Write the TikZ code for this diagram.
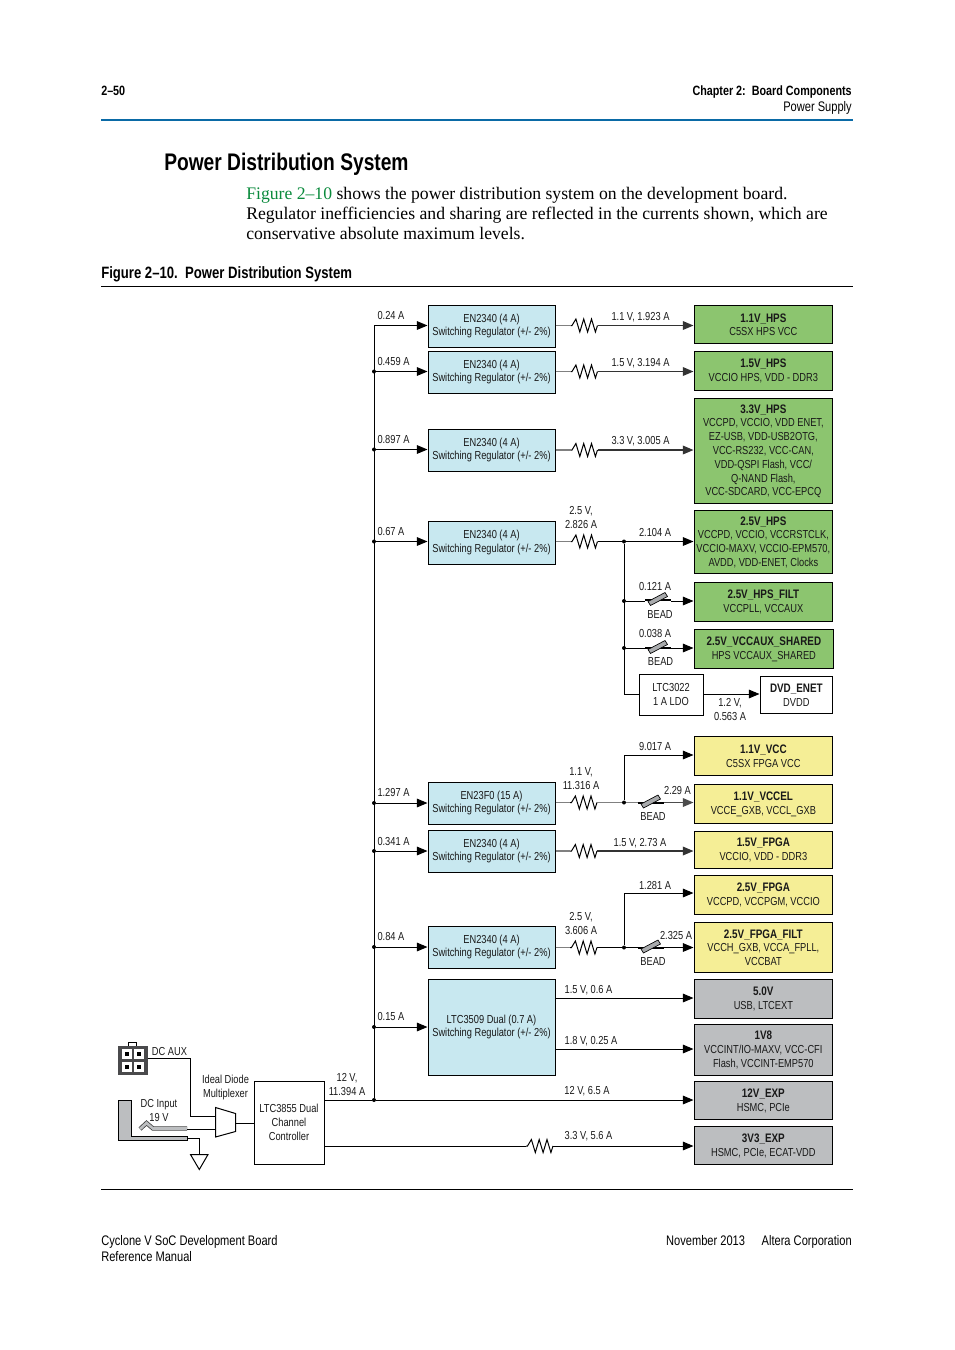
\documentclass[tikz,border=0pt]{standalone}
\usepackage{fontspec}
\usetikzlibrary{arrows.meta}
\setmainfont{Liberation Serif}
\newfontfamily\dg[FakeStretch=0.80]{Liberation Sans}
\newfontfamily\hd[FakeStretch=0.80]{Liberation Sans}
\definecolor{regblue}{HTML}{C8E8F0}
\definecolor{hpsgreen}{HTML}{8CC56F}
\definecolor{fpgayel}{HTML}{F5EE96}
\definecolor{auxgray}{HTML}{BCBEC0}
\definecolor{rulblue}{HTML}{0A6AA6}
\definecolor{lnkgreen}{HTML}{0A8A3C}
\definecolor{darkbody}{HTML}{4A4A4C}
\tikzset{
 px/.style={x=0.75pt,y=-0.75pt},
 wire/.style={line width=0.75pt,black},
 gwire/.style={line width=1pt,black!50},
 arr/.style={-{Triangle[length=8pt,width=6.5pt]}},
 dotn/.style={circle,fill=black,inner sep=0pt,minimum size=3pt},
 boxn/.style={draw=black,line width=0.75pt,align=center,inner sep=0pt,text=black!90,font=\dg\fontsize{8.7pt}{10.35pt}\selectfont},
 lab/.style={inner sep=0pt,align=center,yshift=-0.4pt,text=black!90,font=\dg\fontsize{8.7pt}{10.6pt}\selectfont},
 pageleft/.style={inner sep=0pt,anchor=base west},
 pageright/.style={inner sep=0pt,anchor=base east},
}
% name, x0, y0, x1, y1, fill, text
\newcommand\bx[7]{\node[boxn,fill=#6,minimum width={(#4-#2)*0.75pt},minimum height={(#5-#3)*0.75pt}] (#1) at ({(#2+#4)/2},{(#3+#5)/2}) {#7};}
\newcommand\lb[4]{\node[lab] (#1) at (#2,#3) {#4};}
\newcommand\hh[1]{\rule{0pt}{7.5pt}{\hd\bfseries\fontsize{9.25pt}{10.35pt}\selectfont #1}\\}
\newcommand\dt[3]{\node[dotn] (#1) at (#2,#3) {};}
% resistor: name, x, y
\newcommand\res[3]{\coordinate (#1L) at (#2,#3); \coordinate (#1R) at (#2+27,#3);
 \draw[line width=0.75pt,line join=miter] (#1L) -- ++(1.5,0) -- ++(3.9,-6.5) -- ++(3.9,13) -- ++(3.9,-13) -- ++(3.9,13) -- ++(3.9,-13) -- ++(3.9,13) -- (#1R);}
% bead: name, cx, y
\newcommand\bd[3]{\coordinate (#1L) at (#2-13,#3); \coordinate (#1R) at (#2+13,#3);
 \draw[line width=1.5pt] (#1L) -- (#1R);
 \draw[line width=0.5pt,fill=auxgray!90!black] (#2-10,#3+1.5) -- (#2+7,#3-7.5) -- (#2+9.5,#3-3.5) -- (#2-7.5,#3+5.5) -- cycle;}
\begin{document}
\begin{tikzpicture}[px]
\useasboundingbox (0,0) rectangle (954,1350);
% page furniture
\node[pageleft,font=\hd\bfseries\fontsize{10.1pt}{11pt}\selectfont] (pg) at (101,95) {2–50};
\node[pageright,font=\hd\bfseries\fontsize{10.1pt}{11pt}\selectfont] (ch) at (852,95) {Chapter 2:\ \ Board Components};
\node[pageright,font=\dg\fontsize{10.4pt}{11pt}\selectfont] (sec) at (852,111.5) {Power Supply};
\coordinate (ra) at (101,120); \coordinate (rb) at (853,120);
\draw[rulblue,line width=1.1pt] (ra) -- (rb);
\node[pageleft,font=\hd\bfseries\fontsize{18pt}{20pt}\selectfont] (title) at (164,170) {Power Distribution System};
\node[pageleft,font=\fontsize{13.25pt}{15pt}\selectfont] (p1) at (246,199) {\textcolor{lnkgreen}{Figure 2–10} shows the power distribution system on the development board.};
\node[pageleft,font=\fontsize{13.25pt}{15pt}\selectfont] (p2) at (246,219) {Regulator inefficiencies and sharing are reflected in the currents shown, which are};
\node[pageleft,font=\fontsize{13.25pt}{15pt}\selectfont] (p3) at (246,239) {conservative absolute maximum levels.};
\node[pageleft,font=\hd\bfseries\fontsize{12.3pt}{13pt}\selectfont] (cap) at (101,278) {Figure 2–10.\ \ Power Distribution System};
\coordinate (rc) at (101,286.5); \coordinate (rd) at (853,286.5);
\draw[line width=0.5pt] (rc) -- (rd);
\coordinate (re) at (101,1189); \coordinate (rf) at (853,1189);
\draw[line width=0.5pt] (re) -- (rf);
\node[pageleft,font=\dg\fontsize{10.4pt}{11pt}\selectfont] (f1) at (101,1245) {Cyclone V SoC Development Board};
\node[pageleft,font=\dg\fontsize{10.4pt}{11pt}\selectfont] (f2) at (101,1261) {Reference Manual};
\node[pageright,font=\dg\fontsize{10.4pt}{11pt}\selectfont] (f3) at (852,1245) {November 2013\hspace{1.2em}Altera Corporation};
% regulators
\bx{r1}{428}{305}{555}{347}{regblue}{EN2340 (4 A)\\Switching Regulator (+/- 2\%)}
\bx{r2}{428}{351}{555}{393}{regblue}{EN2340 (4 A)\\Switching Regulator (+/- 2\%)}
\bx{r3}{428}{429}{555}{471}{regblue}{EN2340 (4 A)\\Switching Regulator (+/- 2\%)}
\bx{r4}{428}{521}{555}{564}{regblue}{EN2340 (4 A)\\Switching Regulator (+/- 2\%)}
\bx{r5}{428}{782}{555}{824}{regblue}{EN23F0 (15 A)\\Switching Regulator (+/- 2\%)}
\bx{r6}{428}{830}{555}{872}{regblue}{EN2340 (4 A)\\Switching Regulator (+/- 2\%)}
\bx{r7}{428}{926}{555}{968}{regblue}{EN2340 (4 A)\\Switching Regulator (+/- 2\%)}
\bx{r8}{428}{979}{555}{1075}{regblue}{LTC3509 Dual (0.7 A)\\Switching Regulator (+/- 2\%)}
% loads
\bx{o1}{694}{305}{832.7}{343}{hpsgreen}{\hh{1.1V\_HPS}C5SX HPS VCC}
\bx{o2}{694}{351}{832.7}{390}{hpsgreen}{\hh{1.5V\_HPS}VCCIO HPS, VDD - DDR3}
\bx{o3}{694}{398}{832.7}{503}{hpsgreen}{\hh{3.3V\_HPS}VCCPD, VCCIO, VDD ENET,\\EZ-USB, VDD-USB2OTG,\\VCC-RS232, VCC-CAN,\\VDD-QSPI Flash, VCC/\\Q-NAND Flash,\\VCC-SDCARD, VCC-EPCQ}
\bx{o4}{694}{510}{832.7}{573}{hpsgreen}{\hh{2.5V\_HPS}VCCPD, VCCIO, VCCRSTCLK,\\VCCIO-MAXV, VCCIO-EPM570,\\AVDD, VDD-ENET, Clocks}
\bx{o5}{694}{582}{832.7}{621}{hpsgreen}{\hh{2.5V\_HPS\_FILT}VCCPLL, VCCAUX}
\bx{o6}{694}{629}{833.7}{668}{hpsgreen}{\hh{2.5V\_VCCAUX\_SHARED}HPS VCCAUX\_SHARED}
\bx{o7}{760}{676}{832.7}{713}{white}{\hh{DVD\_ENET}DVDD}
\bx{ldo}{639}{674}{703}{715}{white}{LTC3022\\1 A LDO}
\bx{o8}{694}{736}{832.7}{775}{fpgayel}{\hh{1.1V\_VCC}C5SX FPGA VCC}
\bx{o9}{694}{784}{832.7}{823}{fpgayel}{\hh{1.1V\_VCCEL}VCCE\_GXB, VCCL\_GXB}
\bx{o10}{694}{831}{832.7}{868}{fpgayel}{\hh{1.5V\_FPGA}VCCIO, VDD - DDR3}
\bx{o11}{694}{875}{832.7}{914}{fpgayel}{\hh{2.5V\_FPGA}VCCPD, VCCPGM, VCCIO}
\bx{o12}{694}{922}{832.7}{972}{fpgayel}{\hh{2.5V\_FPGA\_FILT}VCCH\_GXB, VCCA\_FPLL,\\VCCBAT}
\bx{o13}{694}{979}{832.7}{1018}{auxgray}{\hh{5.0V}USB, LTCEXT}
\bx{o14}{694}{1024}{832.7}{1075}{auxgray}{\hh{1V8}VCCINT/IO-MAXV, VCC-CFI\\Flash, VCCINT-EMP570}
\bx{o15}{694}{1081}{832.7}{1119}{auxgray}{\hh{12V\_EXP}HSMC, PCIe}
\bx{o16}{694}{1126}{832.7}{1164}{auxgray}{\hh{3V3\_EXP}HSMC, PCIe, ECAT-VDD}
\bx{ctl}{254}{1081}{324}{1164}{white}{LTC3855 Dual\\Channel\\Controller}
% bus
\coordinate (bustop) at (374,325.5);
\dt{b2}{374}{371.5}\dt{b3}{374}{449.5}\dt{b4}{374}{541.5}\dt{b5}{374}{803}\dt{b6}{374}{851}\dt{b7}{374}{947}\dt{b8}{374}{1027}\dt{b9}{374}{1100}
\draw[wire] (bustop) -- (b9);
\draw[wire,arr] (bustop) -- (r1.west |- bustop);
\foreach \n/\m in {b2/r2,b3/r3,b4/r4,b5/r5,b6/r6,b7/r7,b8/r8}{\draw[wire,arr] (\n) -- (\m.west |- \n);}
\draw[wire] (ctl.east |- b9) -- (b9);
\draw[wire,arr] (b9) -- (o15.west |- b9);
% resistors on the regulator outputs
\res{z1}{570.5}{325.5}\res{z2}{570.5}{371.5}\res{z3}{570.5}{450}\res{z4}{570.5}{541.5}
\res{z5}{570}{802.5}\res{z6}{570}{851}\res{z7}{570}{947.5}\res{z8}{526}{1146}
\foreach \n/\m in {1/1,2/2,3/3,6/10}{\draw[gwire] (r\n.east |- z\n L) -- (z\n L); \draw[gwire,arr,black!80] (z\n R) -- (o\m.west |- z\n R);}
\draw[gwire] (r4.east |- z4L) -- (z4L);
\draw[gwire] (r5.east |- z5L) -- (z5L);
\draw[gwire] (r7.east |- z7L) -- (z7L);
\draw[wire] (ctl.east |- z8L) -- (z8L);
\draw[wire,arr] (z8R) -- (o16.west |- z8R);
% 2.5 V HPS branch
\dt{j1}{624}{541.5}\dt{j2}{624}{601}\dt{j3}{624}{648}
\coordinate (j4) at (624,694);
\draw[wire] (z4R) -- (j1);
\draw[wire,arr] (j1) -- (o4.west |- j1);
\draw[wire] (j1) -- (j4) -- (ldo.west |- j4);
\bd{k1}{658}{600}\bd{k2}{658}{648}
\draw[wire] (j2) -- (k1L |- j2);
\draw[wire,arr] (k1R |- j2) -- (o5.west |- j2);
\draw[wire] (j3) -- (k2L);
\draw[wire,arr] (k2R) -- (o6.west |- k2R);
\draw[wire,arr] (ldo.east |- j4) -- (o7.west |- j4);
% 1.1 V FPGA branch
\dt{j5}{624}{802.5}
\coordinate (j6) at (624,755);
\draw[gwire] (z5R) -- (j5);
\draw[wire,arr] (j5) -- (j6) -- (o8.west |- j6);
\bd{k3}{651}{802.5}
\draw[gwire] (j5) -- (k3L);
\draw[gwire,arr,black!70] (k3R) -- (o9.west |- k3R);
% 2.5 V FPGA branch
\dt{j7}{624}{947.5}
\coordinate (j8) at (624,893);
\draw[wire] (z7R) -- (j7);
\draw[wire,arr] (j7) -- (j8) -- (o11.west |- j8);
\bd{k4}{651}{947.5}
\draw[wire] (j7) -- (k4L);
\draw[wire,arr] (k4R) -- (o12.west |- k4R);
% LTC3509 outputs
\coordinate (q1) at (555,998); \coordinate (q2) at (555,1049);
\draw[wire,arr] (r8.east |- q1) -- (o13.west |- q1);
\draw[wire,arr] (r8.east |- q2) -- (o14.west |- q2);
% wire labels
\lb{a1}{391}{315}{0.24 A}\lb{a2}{393.5}{361}{0.459 A}\lb{a3}{393.5}{439}{0.897 A}\lb{a4}{391}{531}{0.67 A}
\lb{a5}{393.5}{792}{1.297 A}\lb{a6}{393.5}{841}{0.341 A}\lb{a7}{391}{936}{0.84 A}\lb{a8}{391}{1016}{0.15 A}
\lb{a9}{347}{1084}{12 V,\\11.394 A}
\lb{c1}{640.5}{317}{1.1 V, 1.923 A}\lb{c2}{640.5}{363}{1.5 V, 3.194 A}\lb{c3}{640.5}{441}{3.3 V, 3.005 A}
\lb{c4}{581}{517}{2.5 V,\\2.826 A}\lb{c5}{655}{532}{2.104 A}\lb{c6}{655}{586}{0.121 A}\lb{c7}{660}{614}{BEAD}
\lb{c8}{655}{633}{0.038 A}\lb{c9}{660.5}{661}{BEAD}\lb{c10}{730}{709}{1.2 V,\\0.563 A}
\lb{c11}{655}{746}{9.017 A}\lb{c12}{581}{778}{1.1 V,\\11.316 A}\lb{c13}{677.5}{790}{2.29 A}\lb{c14}{653}{816}{BEAD}
\lb{c15}{640}{843}{1.5 V, 2.73 A}\lb{c16}{655}{885}{1.281 A}\lb{c17}{581}{923}{2.5 V,\\3.606 A}
\lb{c18}{676}{935}{2.325 A}\lb{c19}{653}{961}{BEAD}
\lb{c20}{588.5}{990}{1.5 V, 0.6 A}\lb{c21}{591}{1041}{1.8 V, 0.25 A}\lb{c22}{587}{1091}{12 V, 6.5 A}\lb{c23}{588.5}{1136}{3.3 V, 5.6 A}
\lb{d1}{169.5}{1051}{DC AUX}\lb{d2}{225.5}{1087}{Ideal Diode\\Multiplexer}\lb{d3}{159}{1110}{DC Input\\19 V}
% DC AUX connector
\coordinate (tabA) at (128,1042); \coordinate (tabB) at (136,1046);
\draw[line width=0.5pt,fill=white] (tabA) rectangle (tabB);
\coordinate (conA) at (118,1046); \coordinate (conB) at (147.5,1074.5);
\fill[darkbody] (conA) rectangle (conB);
\foreach \cx/\cy in {126.5/1053.5,138.5/1053.5,126.5/1067,138.5/1067}{
 \fill[white] (\cx-5,\cy-5) rectangle (\cx+5,\cy+5);
 \fill[black] (\cx-2,\cy-2) rectangle (\cx+2,\cy+2);}
% mux
\coordinate (muxa) at (215.5,1116.5); \coordinate (muxb) at (215.5,1129);
\draw[line width=0.75pt,fill=white] (215.5,1107.5) -- (235.5,1113.5) -- (235.5,1131.5) -- (215.5,1137) -- cycle;
\coordinate (auxout) at (147.5,1058);
\draw[wire] (auxout) -- (190,1058) -- (190,1116.5) -- (muxa);
\coordinate (muxout) at (235.5,1123);
\draw[wire] (muxout) -- (ctl.west |- muxout);
% DC jack
\draw[line width=0.75pt,fill=auxgray] (118,1100) -- (131,1100) -- (131,1136.5) -- (187,1136.5) -- (187,1140.5) -- (118,1140.5) -- cycle;
\draw[line width=3.2pt,black!75,line join=miter] (140,1129) -- (146.5,1123) -- (153,1128.5) -- (187,1128.5);
\draw[line width=2pt,auxgray,line join=miter] (140,1129) -- (146.5,1123) -- (153,1128.5) -- (187,1128.5);
\coordinate (jackin) at (187,1129);
\draw[wire] (jackin) -- (muxb);
% ground
\coordinate (gndtop) at (199.5,1154.5);
\draw[wire] (187,1138.5) -- (199.5,1138.5) -- (gndtop);
\draw[line width=0.75pt] (190.5,1154.5) -- (208,1154.5) -- (199.3,1169.5) -- cycle;
\end{tikzpicture}
\end{document}
